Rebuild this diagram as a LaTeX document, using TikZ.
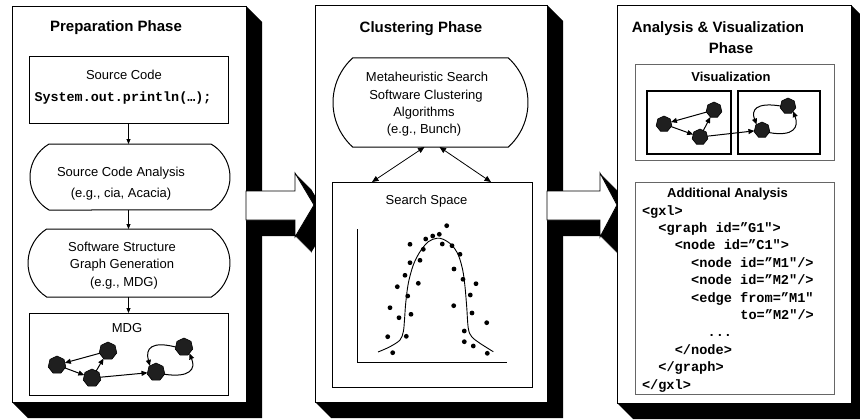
\documentclass[tikz,border=0pt]{standalone}
\usepackage{fontspec}
\setmainfont{Liberation Sans}
\newfontfamily\codefont{Liberation Mono}
\usetikzlibrary{arrows.meta,shapes.misc,shapes.geometric}
\begin{document}
\begin{tikzpicture}[x=1pt,y=-1pt,
  every node/.style={inner sep=0pt,outer sep=0pt},
  txt/.style={font=\fontsize{13pt}{15pt}\selectfont,text height=9.3pt,text depth=0pt},
  ttl/.style={font=\fontsize{15pt}{17pt}\selectfont\bfseries,text height=10.7pt,text depth=0pt},
  sub/.style={font=\fontsize{13pt}{15pt}\selectfont\bfseries,text height=9.3pt,text depth=0pt},
  code/.style={font=\fontsize{13.6pt}{16pt}\selectfont\codefont\bfseries,anchor=base west},
  ccode/.style={font=\fontsize{13.4pt}{16pt}\selectfont\codefont\bfseries,text height=7.8pt,text depth=0pt},
  panel/.style={draw=black,fill=white,line width=0.8pt},
  shade/.style={fill=black},
  box/.style={draw=black,line width=1pt,fill=white},
  gbox/.style={draw=black!60,line width=1pt},
  ibox/.style={draw=black,line width=1.5pt},
  term/.style={draw=black,line width=1pt,fill=white,rounded rectangle,rounded rectangle arc length=#1},
  gn/.style={regular polygon,regular polygon sides=7,fill=black!88,draw=black,line width=0.6pt,minimum size=#1},
  ge/.style={line width=1pt,-{Triangle[length=6pt,width=5pt]}},
  ca/.style={line width=0.8pt,-{Triangle[length=5pt,width=4pt]}},
  dca/.style={line width=0.8pt,{Triangle[length=6.5pt,width=5.5pt]}-{Triangle[length=6.5pt,width=5.5pt]}},
  dot/.style={fill=black},
  barrow/.style={fill=white,draw=black,line width=0.8pt}
]
\useasboundingbox (0,0) rectangle (860,420);

% ---------- Panel 1 ----------
\fill[shade] (246,6) -- (262,22) -- (262,418) -- (28,418) -- (12,402) -- cycle;
\draw[panel] (12,6) rectangle (246,402);
\node[ttl] (p1t) at (116,26) {Preparation Phase};
\node[box,minimum width=199pt,minimum height=66pt] (src) at (128.5,90) {};
\node[txt] (srct) at (124,75) {Source Code};
\node[ccode] (srcc) at (123,98) {System.out.println(…);};
\node[term=120,minimum width=200pt,minimum height=66pt] (sca) at (130,177) {};
\node[txt] (scat1) at (121,172) {Source Code Analysis};
\node[txt] (scat2) at (121,193) {(e.g., cia, Acacia)};
\node[term=115,minimum width=202pt,minimum height=68pt] (ssg) at (129,263) {};
\node[txt] (ssgt1) at (122,247) {Software Structure};
\node[txt] (ssgt2) at (122,264) {Graph Generation};
\node[txt] (ssgt3) at (124,282) {(e.g., MDG)};
\node[box,minimum width=199pt,minimum height=82pt] (mdg) at (128.5,354) {};
\node[txt] (mdgt) at (127,328) {MDG};
\draw[ca] (src.south) -- (src.south |- sca.north);
\draw[ca] (src.south |- sca.south) -- (src.south |- ssg.north);
\draw[ca] (src.south |- ssg.south) -- (src.south |- mdg.north);

\node[gn=18pt] (n1) at (57,365) {};
\node[gn=18pt] (n2) at (108,351) {};
\node[gn=18pt] (n3) at (92,378) {};
\node[gn=18pt] (n4) at (156,372) {};
\node[gn=18pt] (n5) at (184,347) {};
\draw[ge] (n2) -- (n1);
\draw[ge] (n1) -- (n3);
\draw[ge] (n3) -- (n2);
\draw[ge] (n3) -- (n4);
\draw[ge] (n5.west) .. controls (152,341) and (145,348) .. (n4.north west);
\draw[ge] (n4.-15) .. controls (190,378) and (196,369) .. (n5.-50);

% ---------- Arrow 1 ----------
\foreach \s in {1,...,16}
  \fill[shade,shift={(\s,\s)}] (246,191) -- (295,191) -- (295,173) -- (314,205) -- (295,237) -- (295,220) -- (246,220) -- cycle;
\draw[barrow] (246,191) -- (295,191) -- (295,173) -- (314,205) -- (295,237) -- (295,220) -- (246,220) -- cycle;

% ---------- Panel 2 ----------
\fill[shade] (547,5) -- (563,21) -- (563,418) -- (331,418) -- (315,402) -- cycle;
\draw[panel] (315,5) rectangle (547,402);
\node[ttl] (p2t) at (421,27) {Clustering Phase};
\node[term=95,minimum width=195pt,minimum height=89pt] (meta) at (430.5,102.5) {};
\node[txt] (mt1) at (427,77) {Metaheuristic Search};
\node[txt] (mt2) at (426,94.5) {Software Clustering};
\node[txt] (mt3) at (424,112) {Algorithms};
\node[txt] (mt4) at (424,129) {(e.g., Bunch)};
\node[box,minimum width=200pt,minimum height=205pt] (ss) at (432,284.5) {};
\node[txt] (sst) at (426.5,200) {Search Space};
\coordinate (ma) at ([xshift=-6pt]meta.south);
\coordinate (mb) at ([xshift=9pt]meta.south);
\coordinate (sa) at ([xshift=-60pt]ss.north);
\coordinate (sb) at ([xshift=59pt]ss.north);
\draw[dca] (sa) -- (ma);
\draw[dca] (sb) -- (mb);
\coordinate (ax0) at (357,362);
\draw[line width=1pt] (357,229) -- (ax0) -- (507,362);
\draw[line width=0.9pt] plot[smooth,tension=0.55] coordinates {(378,352) (390,346.7) (400,340) (403.3,331.7) (404.5,320) (405.7,303.3) (408.3,283.3) (413.3,265) (420,251.7) (428.3,241.7) (436.7,238.3) (443.3,239.3) (451.7,245) (458.3,255) (462.7,270) (465,286.7) (466.7,306.7) (468.3,328.3) (471.7,336.7) (480,343.3) (493.3,351.7)};
\foreach \px/\py in {446.7/225.7,432.7/236,439.3/234.3,425.7/239,410/244.3,442.3/244,452/245.7,423.3/249.3,460/254.3,420/260.3,410/262.7,454/269,405/275.3,463/279.3,418.3/283.3,476/283.7,397.3/286.7,407.7/296,470.3/295,390/307.7,453.7/305.7,411/314.3,472/313,399/317.7,486.7/322.7,464.3/331,387.7/336.7,406.3/336.3,464.3/341.7,473.3/346,392.7/352.7,487.3/353.3}
  \fill[dot] (\px,\py) circle[radius=2.4pt];

% ---------- Arrow 2 ----------
\foreach \s in {1,...,16}
  \fill[shade,shift={(\s,\s)}] (547,191) -- (600,191) -- (600,173) -- (617,205) -- (600,237) -- (600,220) -- (547,220) -- cycle;
\draw[barrow] (547,191) -- (600,191) -- (600,173) -- (617,205) -- (600,237) -- (600,220) -- (547,220) -- cycle;

% ---------- Panel 3 ----------
\fill[shade] (851,5) -- (867,21) -- (867,419) -- (633,419) -- (617,403) -- cycle;
\draw[panel] (617,5) rectangle (851,403);
\node[ttl] (p3t1) at (718,27) {Analysis \& Visualization};
\node[ttl] (p3t2) at (731,48) {Phase};
\node[gbox,minimum width=199pt,minimum height=95pt] (vis) at (734.5,112.5) {};
\node[sub] (vist) at (731,77) {Visualization};
\node[ibox,minimum width=84pt,minimum height=63pt] (va) at (689,122.5) {};
\node[ibox,minimum width=82pt,minimum height=63pt] (vb) at (779,122.5) {};
\node[gn=16pt] (a1) at (664,124) {};
\node[gn=16pt] (a2) at (714,110) {};
\node[gn=16pt] (a3) at (700,137) {};
\node[gn=16pt] (b1) at (762,130) {};
\node[gn=16pt] (b2) at (788,106) {};
\draw[ge] (a2) -- (a1);
\draw[ge] (a1) -- (a3);
\draw[ge] (a3) -- (a2);
\draw[ge] (a3) -- (b1);
\draw[ge] (b2.west) .. controls (756,102) and (751,110) .. (b1.north west);
\draw[ge] (b1.-20) .. controls (794,137) and (799,127) .. (b2.-45);

\node[gbox,minimum width=199pt,minimum height=212pt] (aa) at (734.5,288) {};
\node[sub] (aat) at (727.5,193) {Additional Analysis};
\node[code] (c1) at (642,215) {<gxl>};
\node[code] (c2) at (658.4,232.4) {<graph id=”G1">};
\node[code] (c3) at (674.8,249.8) {<node id=”C1">};
\node[code] (c4) at (691.2,267.2) {<node id=”M1"/>};
\node[code] (c5) at (691.2,284.6) {<node id=”M2"/>};
\node[code] (c6) at (691.2,302) {<edge from=”M1"};
\node[code] (c7) at (740.4,319.4) {to=”M2"/>};
\node[code] (c8) at (707.6,336.8) {...};
\node[code] (c9) at (674.8,354.2) {</node>};
\node[code] (c10) at (658.4,371.6) {</graph>};
\node[code] (c11) at (642,389) {</gxl>};
\end{tikzpicture}
\end{document}
